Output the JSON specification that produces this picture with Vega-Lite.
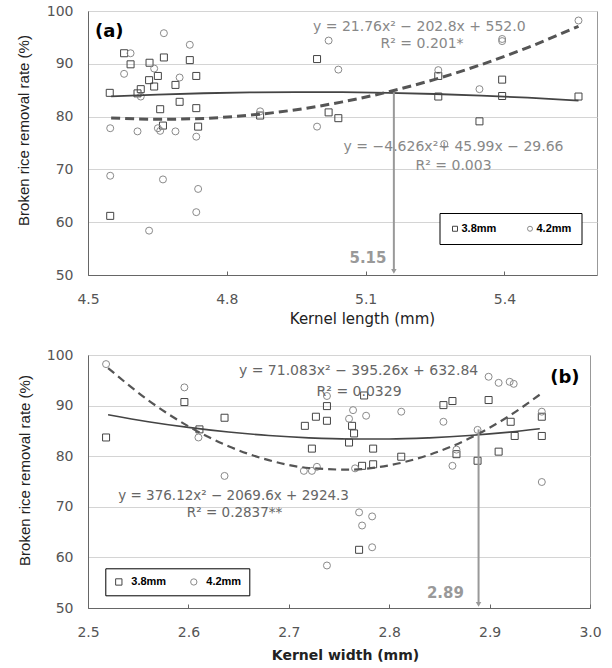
{
  "$schema": "https://vega.github.io/schema/vega-lite/v6.json",
  "background": "white",
  "padding": {"left": 15, "top": 3, "right": 5, "bottom": 5},
  "spacing": 20,
  "datasets": {
    "one": [{}],
    "pa": [
      {"length": 4.547, "rate": 84.5, "sieve": "3.8mm"},
      {"length": 4.578, "rate": 92.0, "sieve": "3.8mm"},
      {"length": 4.592, "rate": 89.9, "sieve": "3.8mm"},
      {"length": 4.607, "rate": 84.4, "sieve": "3.8mm"},
      {"length": 4.614, "rate": 85.2, "sieve": "3.8mm"},
      {"length": 4.633, "rate": 90.2, "sieve": "3.8mm"},
      {"length": 4.632, "rate": 86.9, "sieve": "3.8mm"},
      {"length": 4.643, "rate": 85.7, "sieve": "3.8mm"},
      {"length": 4.651, "rate": 87.7, "sieve": "3.8mm"},
      {"length": 4.664, "rate": 91.2, "sieve": "3.8mm"},
      {"length": 4.656, "rate": 81.4, "sieve": "3.8mm"},
      {"length": 4.662, "rate": 78.3, "sieve": "3.8mm"},
      {"length": 4.689, "rate": 86.0, "sieve": "3.8mm"},
      {"length": 4.698, "rate": 82.8, "sieve": "3.8mm"},
      {"length": 4.72, "rate": 90.7, "sieve": "3.8mm"},
      {"length": 4.734, "rate": 87.7, "sieve": "3.8mm"},
      {"length": 4.734, "rate": 81.6, "sieve": "3.8mm"},
      {"length": 4.738, "rate": 78.1, "sieve": "3.8mm"},
      {"length": 4.548, "rate": 61.2, "sieve": "3.8mm"},
      {"length": 4.872, "rate": 80.2, "sieve": "3.8mm"},
      {"length": 4.995, "rate": 90.9, "sieve": "3.8mm"},
      {"length": 5.02, "rate": 80.8, "sieve": "3.8mm"},
      {"length": 5.041, "rate": 79.7, "sieve": "3.8mm"},
      {"length": 5.257, "rate": 87.7, "sieve": "3.8mm"},
      {"length": 5.257, "rate": 83.8, "sieve": "3.8mm"},
      {"length": 5.346, "rate": 79.1, "sieve": "3.8mm"},
      {"length": 5.395, "rate": 87.0, "sieve": "3.8mm"},
      {"length": 5.395, "rate": 83.9, "sieve": "3.8mm"},
      {"length": 5.56, "rate": 83.8, "sieve": "3.8mm"},
      {"length": 4.548, "rate": 77.8, "sieve": "4.2mm"},
      {"length": 4.548, "rate": 68.8, "sieve": "4.2mm"},
      {"length": 4.578, "rate": 88.1, "sieve": "4.2mm"},
      {"length": 4.592, "rate": 92.0, "sieve": "4.2mm"},
      {"length": 4.607, "rate": 77.2, "sieve": "4.2mm"},
      {"length": 4.614, "rate": 83.8, "sieve": "4.2mm"},
      {"length": 4.632, "rate": 58.4, "sieve": "4.2mm"},
      {"length": 4.643, "rate": 89.1, "sieve": "4.2mm"},
      {"length": 4.651, "rate": 77.8, "sieve": "4.2mm"},
      {"length": 4.656, "rate": 77.3, "sieve": "4.2mm"},
      {"length": 4.664, "rate": 95.8, "sieve": "4.2mm"},
      {"length": 4.662, "rate": 68.1, "sieve": "4.2mm"},
      {"length": 4.689, "rate": 77.2, "sieve": "4.2mm"},
      {"length": 4.698, "rate": 87.4, "sieve": "4.2mm"},
      {"length": 4.72, "rate": 93.6, "sieve": "4.2mm"},
      {"length": 4.734, "rate": 76.2, "sieve": "4.2mm"},
      {"length": 4.738, "rate": 66.3, "sieve": "4.2mm"},
      {"length": 4.734, "rate": 61.9, "sieve": "4.2mm"},
      {"length": 4.872, "rate": 81.0, "sieve": "4.2mm"},
      {"length": 4.995, "rate": 78.1, "sieve": "4.2mm"},
      {"length": 5.02, "rate": 94.4, "sieve": "4.2mm"},
      {"length": 5.041, "rate": 88.9, "sieve": "4.2mm"},
      {"length": 5.257, "rate": 88.8, "sieve": "4.2mm"},
      {"length": 5.27, "rate": 74.8, "sieve": "4.2mm"},
      {"length": 5.346, "rate": 85.2, "sieve": "4.2mm"},
      {"length": 5.395, "rate": 94.7, "sieve": "4.2mm"},
      {"length": 5.395, "rate": 94.3, "sieve": "4.2mm"},
      {"length": 5.56, "rate": 98.2, "sieve": "4.2mm"}
    ],
    "ca": [
      {"length": 4.55, "rate": 83.82, "sieve": "3.8mm"},
      {"length": 4.65, "rate": 84.17, "sieve": "3.8mm"},
      {"length": 4.75, "rate": 84.42, "sieve": "3.8mm"},
      {"length": 4.85, "rate": 84.58, "sieve": "3.8mm"},
      {"length": 4.95, "rate": 84.64, "sieve": "3.8mm"},
      {"length": 5.05, "rate": 84.62, "sieve": "3.8mm"},
      {"length": 5.15, "rate": 84.5, "sieve": "3.8mm"},
      {"length": 5.25, "rate": 84.28, "sieve": "3.8mm"},
      {"length": 5.35, "rate": 83.98, "sieve": "3.8mm"},
      {"length": 5.45, "rate": 83.58, "sieve": "3.8mm"},
      {"length": 5.56, "rate": 83.04, "sieve": "3.8mm"},
      {"length": 4.55, "rate": 79.75, "sieve": "4.2mm"},
      {"length": 4.65, "rate": 79.49, "sieve": "4.2mm"},
      {"length": 4.75, "rate": 79.66, "sieve": "4.2mm"},
      {"length": 4.85, "rate": 80.27, "sieve": "4.2mm"},
      {"length": 4.95, "rate": 81.31, "sieve": "4.2mm"},
      {"length": 5.05, "rate": 82.79, "sieve": "4.2mm"},
      {"length": 5.15, "rate": 84.71, "sieve": "4.2mm"},
      {"length": 5.25, "rate": 87.06, "sieve": "4.2mm"},
      {"length": 5.35, "rate": 89.85, "sieve": "4.2mm"},
      {"length": 5.45, "rate": 93.07, "sieve": "4.2mm"},
      {"length": 5.56, "rate": 97.11, "sieve": "4.2mm"}
    ],
    "pb": [
      {"width": 2.518, "rate": 83.7, "sieve": "3.8mm"},
      {"width": 2.596, "rate": 90.7, "sieve": "3.8mm"},
      {"width": 2.611, "rate": 85.3, "sieve": "3.8mm"},
      {"width": 2.636, "rate": 87.6, "sieve": "3.8mm"},
      {"width": 2.716, "rate": 86.0, "sieve": "3.8mm"},
      {"width": 2.723, "rate": 81.5, "sieve": "3.8mm"},
      {"width": 2.727, "rate": 87.8, "sieve": "3.8mm"},
      {"width": 2.738, "rate": 89.9, "sieve": "3.8mm"},
      {"width": 2.738, "rate": 87.0, "sieve": "3.8mm"},
      {"width": 2.775, "rate": 92.0, "sieve": "3.8mm"},
      {"width": 2.763, "rate": 86.0, "sieve": "3.8mm"},
      {"width": 2.765, "rate": 84.5, "sieve": "3.8mm"},
      {"width": 2.76, "rate": 82.7, "sieve": "3.8mm"},
      {"width": 2.784, "rate": 81.5, "sieve": "3.8mm"},
      {"width": 2.773, "rate": 78.1, "sieve": "3.8mm"},
      {"width": 2.784, "rate": 78.4, "sieve": "3.8mm"},
      {"width": 2.77, "rate": 61.5, "sieve": "3.8mm"},
      {"width": 2.812, "rate": 79.9, "sieve": "3.8mm"},
      {"width": 2.854, "rate": 90.1, "sieve": "3.8mm"},
      {"width": 2.863, "rate": 90.9, "sieve": "3.8mm"},
      {"width": 2.867, "rate": 80.4, "sieve": "3.8mm"},
      {"width": 2.888, "rate": 79.1, "sieve": "3.8mm"},
      {"width": 2.899, "rate": 91.1, "sieve": "3.8mm"},
      {"width": 2.909, "rate": 80.9, "sieve": "3.8mm"},
      {"width": 2.921, "rate": 86.8, "sieve": "3.8mm"},
      {"width": 2.925, "rate": 84.0, "sieve": "3.8mm"},
      {"width": 2.952, "rate": 87.8, "sieve": "3.8mm"},
      {"width": 2.952, "rate": 84.0, "sieve": "3.8mm"},
      {"width": 2.518, "rate": 98.2, "sieve": "4.2mm"},
      {"width": 2.596, "rate": 93.6, "sieve": "4.2mm"},
      {"width": 2.61, "rate": 83.7, "sieve": "4.2mm"},
      {"width": 2.636, "rate": 76.1, "sieve": "4.2mm"},
      {"width": 2.715, "rate": 77.1, "sieve": "4.2mm"},
      {"width": 2.723, "rate": 77.1, "sieve": "4.2mm"},
      {"width": 2.728, "rate": 77.9, "sieve": "4.2mm"},
      {"width": 2.738, "rate": 91.9, "sieve": "4.2mm"},
      {"width": 2.738, "rate": 58.4, "sieve": "4.2mm"},
      {"width": 2.764, "rate": 89.1, "sieve": "4.2mm"},
      {"width": 2.76, "rate": 87.4, "sieve": "4.2mm"},
      {"width": 2.777, "rate": 88.0, "sieve": "4.2mm"},
      {"width": 2.812, "rate": 88.8, "sieve": "4.2mm"},
      {"width": 2.854, "rate": 86.8, "sieve": "4.2mm"},
      {"width": 2.766, "rate": 77.6, "sieve": "4.2mm"},
      {"width": 2.863, "rate": 78.1, "sieve": "4.2mm"},
      {"width": 2.867, "rate": 81.3, "sieve": "4.2mm"},
      {"width": 2.888, "rate": 85.2, "sieve": "4.2mm"},
      {"width": 2.899, "rate": 95.7, "sieve": "4.2mm"},
      {"width": 2.909, "rate": 94.5, "sieve": "4.2mm"},
      {"width": 2.92, "rate": 94.7, "sieve": "4.2mm"},
      {"width": 2.924, "rate": 94.3, "sieve": "4.2mm"},
      {"width": 2.952, "rate": 88.8, "sieve": "4.2mm"},
      {"width": 2.952, "rate": 74.9, "sieve": "4.2mm"},
      {"width": 2.77, "rate": 68.9, "sieve": "4.2mm"},
      {"width": 2.783, "rate": 68.1, "sieve": "4.2mm"},
      {"width": 2.773, "rate": 66.3, "sieve": "4.2mm"},
      {"width": 2.783, "rate": 62.0, "sieve": "4.2mm"}
    ],
    "cb": [
      {"width": 2.52, "rate": 88.19, "sieve": "3.8mm"},
      {"width": 2.56, "rate": 86.82, "sieve": "3.8mm"},
      {"width": 2.6, "rate": 85.69, "sieve": "3.8mm"},
      {"width": 2.64, "rate": 84.77, "sieve": "3.8mm"},
      {"width": 2.68, "rate": 84.09, "sieve": "3.8mm"},
      {"width": 2.72, "rate": 83.63, "sieve": "3.8mm"},
      {"width": 2.76, "rate": 83.4, "sieve": "3.8mm"},
      {"width": 2.8, "rate": 83.4, "sieve": "3.8mm"},
      {"width": 2.84, "rate": 83.63, "sieve": "3.8mm"},
      {"width": 2.88, "rate": 84.08, "sieve": "3.8mm"},
      {"width": 2.92, "rate": 84.76, "sieve": "3.8mm"},
      {"width": 2.95, "rate": 85.42, "sieve": "3.8mm"},
      {"width": 2.52, "rate": 97.42, "sieve": "4.2mm"},
      {"width": 2.56, "rate": 91.06, "sieve": "4.2mm"},
      {"width": 2.6, "rate": 85.91, "sieve": "4.2mm"},
      {"width": 2.64, "rate": 81.96, "sieve": "4.2mm"},
      {"width": 2.68, "rate": 79.22, "sieve": "4.2mm"},
      {"width": 2.72, "rate": 77.67, "sieve": "4.2mm"},
      {"width": 2.76, "rate": 77.34, "sieve": "4.2mm"},
      {"width": 2.8, "rate": 78.2, "sieve": "4.2mm"},
      {"width": 2.84, "rate": 80.27, "sieve": "4.2mm"},
      {"width": 2.88, "rate": 83.54, "sieve": "4.2mm"},
      {"width": 2.92, "rate": 88.02, "sieve": "4.2mm"},
      {"width": 2.95, "rate": 92.17, "sieve": "4.2mm"}
    ]
  },
  "config": {
    "view": {"stroke": "#999", "strokeWidth": 1},
    "axis": {
      "labelFont": "DejaVu Sans",
      "labelFontSize": 14,
      "labelColor": "#555",
      "titleFont": "DejaVu Sans",
      "titleFontWeight": "normal",
      "titleColor": "#222",
      "domainColor": "#666",
      "gridColor": "#d4d4d4",
      "tickColor": "#666"
    },
    "text": {"font": "DejaVu Sans"}
  },
  "resolve": {
    "scale": {"shape": "independent", "stroke": "independent"},
    "legend": {"shape": "independent", "stroke": "independent"}
  },
  "vconcat": [
    {
      "width": 509,
      "height": 264,
      "layer": [
        {
          "data": {"name": "pa"},
          "mark": {"type": "point", "filled": false, "size": 49, "strokeWidth": 1, "opacity": 1},
          "encoding": {
            "x": {
              "field": "length", "type": "quantitative",
              "scale": {"domain": [4.5, 5.6], "nice": false, "zero": false},
              "axis": {
                "values": [4.5, 4.8, 5.1, 5.4], "format": ".1f", "grid": false,
                "tickSize": -4, "labelPadding": 21, "labelFlush": false,
                "title": "Kernel length  (mm)",
                "titleFontSize": 15, "titleX": 274, "titleY": 43, "titleBaseline": "middle"
              }
            },
            "y": {
              "field": "rate", "type": "quantitative",
              "scale": {"domain": [50, 100], "nice": false, "zero": false},
              "axis": {
                "values": [50, 60, 70, 80, 90, 100], "ticks": false, "tickSize": 0,
                "labelPadding": 15, "grid": true,
                "title": "Broken rice removal rate (%)",
                "titleFont": "Liberation Sans", "titleFontSize": 15,
                "titleX": -64.5, "titleY": 119, "titleBaseline": "middle"
              }
            },
            "shape": {
              "field": "sieve", "type": "nominal",
              "scale": {"domain": ["3.8mm", "4.2mm"], "range": ["square", "circle"]},
              "legend": {
                "orient": "none", "legendX": 351.5, "legendY": 202, "direction": "horizontal",
                "title": null, "fillColor": "white", "strokeColor": "#000",
                "padding": 10, "labelFont": "Liberation Sans", "labelFontWeight": "bold",
                "labelFontSize": 11, "labelColor": "#000", "symbolSize": 25, "symbolStrokeWidth": 1,
                "labelOffset": 1, "columnPadding": 28,
                "labelExpr": "datum.label == '4.2mm' ? datum.label + '      ' : datum.label"
              }
            },
            "stroke": {
              "field": "sieve", "type": "nominal",
              "scale": {"domain": ["3.8mm", "4.2mm"], "range": ["#444444", "#8a8a8a"]},
              "legend": {
                "orient": "none", "legendX": 351.5, "legendY": 202, "direction": "horizontal",
                "title": null, "fillColor": "white", "strokeColor": "#000",
                "padding": 10, "labelFont": "Liberation Sans", "labelFontWeight": "bold",
                "labelFontSize": 11, "labelColor": "#000", "symbolSize": 25, "symbolStrokeWidth": 1,
                "labelOffset": 1, "columnPadding": 28,
                "labelExpr": "datum.label == '4.2mm' ? datum.label + '      ' : datum.label"
              }
            }
          }
        },
        {
          "data": {"name": "ca"},
          "transform": [{"filter": "datum.sieve == '3.8mm'"}],
          "mark": {"type": "line", "color": "#444", "strokeWidth": 1.8, "interpolate": "monotone"},
          "encoding": {
            "x": {"field": "length", "type": "quantitative"},
            "y": {"field": "rate", "type": "quantitative"}
          }
        },
        {
          "data": {"name": "ca"},
          "transform": [{"filter": "datum.sieve == '4.2mm'"}],
          "mark": {"type": "line", "color": "#555", "strokeWidth": 3, "strokeDash": [9, 5], "interpolate": "monotone"},
          "encoding": {
            "x": {"field": "length", "type": "quantitative"},
            "y": {"field": "rate", "type": "quantitative"}
          }
        },
        {
          "data": {"name": "one"},
          "mark": {"type": "rule", "color": "#999", "strokeWidth": 2},
          "encoding": {"x": {"datum": 5.161}, "y": {"datum": 84.6}, "y2": {"datum": 50.8}}
        },
        {
          "data": {"name": "one"},
          "mark": {"type": "point", "shape": "triangle-down", "filled": true, "color": "#999", "size": 30, "opacity": 1},
          "encoding": {"x": {"datum": 5.161}, "y": {"datum": 50.7}}
        },
        {
          "data": {"name": "one"},
          "mark": {"type": "text", "fontSize": 14, "color": "#888"},
          "encoding": {"x": {"datum": 5.216}, "y": {"datum": 97.0}, "text": {"value": "y = 21.76x² − 202.8x + 552.0"}}
        },
        {
          "data": {"name": "one"},
          "mark": {"type": "text", "fontSize": 14, "color": "#888"},
          "encoding": {"x": {"datum": 5.222}, "y": {"datum": 93.8}, "text": {"value": "R² = 0.201*"}}
        },
        {
          "data": {"name": "one"},
          "mark": {"type": "text", "fontSize": 14, "color": "#888"},
          "encoding": {"x": {"datum": 5.29}, "y": {"datum": 74.2}, "text": {"value": "y = −4.626x²+ 45.99x − 29.66"}}
        },
        {
          "data": {"name": "one"},
          "mark": {"type": "text", "fontSize": 14, "color": "#888"},
          "encoding": {"x": {"datum": 5.29}, "y": {"datum": 70.55}, "text": {"value": "R² = 0.003"}}
        },
        {
          "data": {"name": "one"},
          "mark": {"type": "text", "fontSize": 15, "fontWeight": "bold", "color": "#999"},
          "encoding": {"x": {"datum": 5.105}, "y": {"datum": 53.2}, "text": {"value": "5.15"}}
        },
        {
          "data": {"name": "one"},
          "mark": {"type": "text", "fontSize": 18, "fontWeight": "bold", "color": "#000"},
          "encoding": {"x": {"datum": 4.546}, "y": {"datum": 96.1}, "text": {"value": "(a)"}}
        }
      ]
    },
    {
      "width": 502,
      "height": 253,
      "layer": [
        {
          "data": {"name": "pb"},
          "mark": {"type": "point", "filled": false, "size": 49, "strokeWidth": 1, "opacity": 1},
          "encoding": {
            "x": {
              "field": "width", "type": "quantitative",
              "scale": {"domain": [2.5, 3.0], "nice": false, "zero": false},
              "axis": {
                "values": [2.5, 2.6, 2.7, 2.8, 2.9, 3.0], "format": ".1f", "grid": false,
                "tickSize": -4, "labelPadding": 21, "labelFlush": false,
                "title": "Kernel width  (mm)",
                "titleFontSize": 14, "titleFontWeight": "bold",
                "titleX": 257, "titleY": 47, "titleBaseline": "middle"
              }
            },
            "y": {
              "field": "rate", "type": "quantitative",
              "scale": {"domain": [50, 100], "nice": false, "zero": false},
              "axis": {
                "values": [50, 60, 70, 80, 90, 100], "ticks": false, "tickSize": 0,
                "labelPadding": 15, "grid": true,
                "title": "Broken rice removal rate (%)",
                "titleFont": "Liberation Sans", "titleFontSize": 15,
                "titleX": -63.5, "titleY": 115, "titleBaseline": "middle"
              }
            },
            "shape": {
              "field": "sieve", "type": "nominal",
              "scale": {"domain": ["3.8mm", "4.2mm"], "range": ["square", "circle"]},
              "legend": {
                "orient": "none", "legendX": 17.3, "legendY": 213.3, "direction": "horizontal",
                "title": null, "fillColor": "white", "strokeColor": "#000",
                "padding": 8, "labelFont": "Liberation Sans", "labelFontWeight": "bold",
                "labelFontSize": 11, "labelColor": "#000", "symbolSize": 40, "symbolStrokeWidth": 1,
                "labelOffset": 7, "columnPadding": 22
              }
            },
            "stroke": {
              "field": "sieve", "type": "nominal",
              "scale": {"domain": ["3.8mm", "4.2mm"], "range": ["#444444", "#8a8a8a"]},
              "legend": {
                "orient": "none", "legendX": 17.3, "legendY": 213.3, "direction": "horizontal",
                "title": null, "fillColor": "white", "strokeColor": "#000",
                "padding": 8, "labelFont": "Liberation Sans", "labelFontWeight": "bold",
                "labelFontSize": 11, "labelColor": "#000", "symbolSize": 40, "symbolStrokeWidth": 1,
                "labelOffset": 7, "columnPadding": 22
              }
            }
          }
        },
        {
          "data": {"name": "cb"},
          "transform": [{"filter": "datum.sieve == '3.8mm'"}],
          "mark": {"type": "line", "color": "#444", "strokeWidth": 1.6, "interpolate": "monotone"},
          "encoding": {
            "x": {"field": "width", "type": "quantitative"},
            "y": {"field": "rate", "type": "quantitative"}
          }
        },
        {
          "data": {"name": "cb"},
          "transform": [{"filter": "datum.sieve == '4.2mm'"}],
          "mark": {"type": "line", "color": "#555", "strokeWidth": 2.2, "strokeDash": [8, 5], "interpolate": "monotone"},
          "encoding": {
            "x": {"field": "width", "type": "quantitative"},
            "y": {"field": "rate", "type": "quantitative"}
          }
        },
        {
          "data": {"name": "one"},
          "mark": {"type": "rule", "color": "#999", "strokeWidth": 2},
          "encoding": {"x": {"datum": 2.889}, "y": {"datum": 85.3}, "y2": {"datum": 50.8}}
        },
        {
          "data": {"name": "one"},
          "mark": {"type": "point", "shape": "triangle-down", "filled": true, "color": "#999", "size": 30, "opacity": 1},
          "encoding": {"x": {"datum": 2.889}, "y": {"datum": 50.7}}
        },
        {
          "data": {"name": "one"},
          "mark": {"type": "text", "fontSize": 14, "color": "#666"},
          "encoding": {"x": {"datum": 2.7695}, "y": {"datum": 96.85}, "text": {"value": "y = 71.083x² − 395.26x + 632.84"}}
        },
        {
          "data": {"name": "one"},
          "mark": {"type": "text", "fontSize": 14, "color": "#666"},
          "encoding": {"x": {"datum": 2.77}, "y": {"datum": 92.7}, "text": {"value": "R² = 0.0329"}}
        },
        {
          "data": {"name": "one"},
          "mark": {"type": "text", "fontSize": 13.5, "color": "#666"},
          "encoding": {"x": {"datum": 2.645}, "y": {"datum": 72.2}, "text": {"value": "y = 376.12x² − 2069.6x + 2924.3"}}
        },
        {
          "data": {"name": "one"},
          "mark": {"type": "text", "fontSize": 13.5, "color": "#666"},
          "encoding": {"x": {"datum": 2.646}, "y": {"datum": 68.8}, "text": {"value": "R² = 0.2837**"}}
        },
        {
          "data": {"name": "one"},
          "mark": {"type": "text", "fontSize": 15, "fontWeight": "bold", "color": "#999"},
          "encoding": {"x": {"datum": 2.856}, "y": {"datum": 53.0}, "text": {"value": "2.89"}}
        },
        {
          "data": {"name": "one"},
          "mark": {"type": "text", "fontSize": 18, "fontWeight": "bold", "color": "#000"},
          "encoding": {"x": {"datum": 2.975}, "y": {"datum": 95.5}, "text": {"value": "(b)"}}
        }
      ]
    }
  ]
}
